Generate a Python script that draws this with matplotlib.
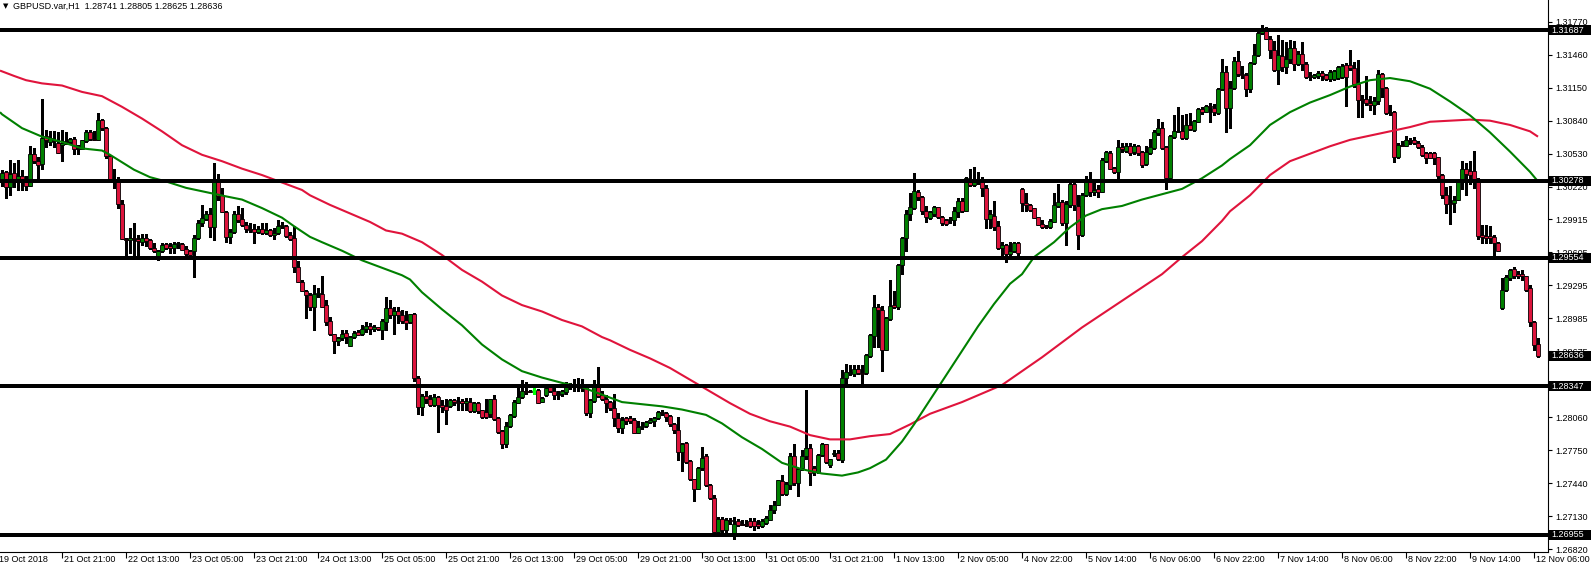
import numpy as np
import matplotlib
matplotlib.use('Agg')
import matplotlib.pyplot as plt
import matplotlib.transforms as mtransforms
from matplotlib.patches import Rectangle

plt.rcParams['font.family'] = ['Liberation Sans', 'DejaVu Sans']

# chart header
chart_title = 'GBPUSD.var,H1  1.28741 1.28805 1.28625 1.28636'

# H1 candles (one entry per bar, left to right)
opens = [
    1.3027, 1.3036, 1.3022, 1.3035, 1.3027, 1.3032, 1.3027, 1.3023, 1.3053, 1.3046,
    1.3043, 1.3070, 1.3064, 1.3066, 1.3063, 1.3061, 1.3064, 1.3064, 1.3067, 1.3058,
    1.3057, 1.3065, 1.3073, 1.3067, 1.3066, 1.3085, 1.3077, 1.3051, 1.3029, 1.3028,
    1.3006, 1.2973, 1.2972, 1.2974, 1.2973, 1.2970, 1.2974, 1.2972, 1.2965, 1.2957,
    1.2962, 1.2968, 1.2966, 1.2965, 1.2968, 1.2968, 1.2964, 1.2962, 1.2962, 1.2974,
    1.2988, 1.2992, 1.2996, 1.2984, 1.3028, 1.3014, 1.2998, 1.2975, 1.2980, 1.2996,
    1.2992, 1.2986, 1.2982, 1.2982, 1.2980, 1.2982, 1.2979, 1.2981, 1.2977, 1.2979,
    1.2985, 1.2985, 1.2977, 1.2974, 1.2947, 1.2933, 1.2924, 1.2920, 1.2909, 1.2921,
    1.2921, 1.2911, 1.2896, 1.2884, 1.2877, 1.2880, 1.2885, 1.2873, 1.2881, 1.2886,
    1.2884, 1.2889, 1.2891, 1.2889, 1.2890, 1.2888, 1.2895, 1.2908, 1.2902, 1.2905,
    1.2902, 1.2897, 1.2895, 1.2903, 1.2843, 1.2815, 1.2826, 1.2823, 1.2817, 1.2825,
    1.2817, 1.2816, 1.2816, 1.2822, 1.2820, 1.2821, 1.2819, 1.2820, 1.2812, 1.2819,
    1.2813, 1.2811, 1.2809, 1.2823, 1.2805, 1.2793, 1.2781, 1.2798, 1.2807, 1.2819,
    1.2825, 1.2830, 1.2830, 1.2831, 1.2831, 1.2820, 1.2827, 1.2834, 1.2830, 1.2827,
    1.2828, 1.2829, 1.2834, 1.2835, 1.2834, 1.2835, 1.2836, 1.2810, 1.2821, 1.2836,
    1.2827, 1.2823, 1.2820, 1.2814, 1.2805, 1.2796, 1.2805, 1.2805, 1.2803, 1.2791,
    1.2797, 1.2798, 1.2801, 1.2802, 1.2805, 1.2811, 1.2810, 1.2807, 1.2799, 1.2794,
    1.2773, 1.2782, 1.2765, 1.2748, 1.2738, 1.2758, 1.2769, 1.2742, 1.2730, 1.2698,
    1.2710, 1.2700, 1.2709, 1.2696, 1.2708, 1.2706, 1.2706, 1.2708, 1.2708, 1.2706,
    1.2704, 1.2707, 1.2709, 1.2719, 1.2723, 1.2746, 1.2734, 1.2742, 1.2769, 1.2744,
    1.2758, 1.2769, 1.2777, 1.2758, 1.2754, 1.2770, 1.2781, 1.2761, 1.2771, 1.2772,
    1.2766, 1.2843, 1.2847, 1.2846, 1.2851, 1.2847, 1.2847, 1.2863, 1.2882, 1.2909,
    1.2906, 1.2869, 1.2898, 1.2911, 1.2909, 1.2949, 1.2974, 1.2996, 1.3002, 1.3017,
    1.3012, 1.2999, 1.2993, 1.2996, 1.3003, 1.2994, 1.2991, 1.2991, 1.2991, 1.2998,
    1.3009, 1.2999, 1.3027, 1.3024, 1.3027, 1.3028, 1.3021, 1.2992, 1.2995, 1.2985,
    1.2965, 1.2967, 1.2959, 1.2962, 1.2969, 1.3020, 1.3007, 1.3005, 1.3002, 1.2994,
    1.2987, 1.2985, 1.2984, 1.2989, 1.3004, 1.3008, 1.2988, 1.3005, 1.3025, 1.3004,
    1.2977, 1.3014, 1.3027, 1.3017, 1.3020, 1.3017, 1.3046, 1.3054, 1.3040, 1.3036,
    1.3059, 1.3056, 1.3060, 1.3055, 1.3060, 1.3055, 1.3043, 1.3054, 1.3058, 1.3072,
    1.3077, 1.3059, 1.3030, 1.3069, 1.3073, 1.3074, 1.3068, 1.3080, 1.3075, 1.3083,
    1.3095, 1.3092, 1.3098, 1.3096, 1.3091, 1.3114, 1.3130, 1.3096, 1.3115, 1.3140,
    1.3128, 1.3127, 1.3114, 1.3138, 1.3146, 1.3166, 1.3171, 1.3161, 1.3150, 1.3132,
    1.3145, 1.3134, 1.3142, 1.3152, 1.3137, 1.3147, 1.3137, 1.3126, 1.3125, 1.3126,
    1.3129, 1.3127, 1.3123, 1.3123, 1.3124, 1.3125, 1.3136, 1.3136, 1.3133, 1.3118,
    1.3104, 1.3104, 1.3101, 1.3099, 1.3102, 1.3128, 1.3115, 1.3091, 1.3092, 1.3050,
    1.3061, 1.3060, 1.3066, 1.3066, 1.3063, 1.3059, 1.3054, 1.3054, 1.3054, 1.3050,
    1.3033, 1.3014, 1.3007, 1.3007, 1.3010, 1.3028, 1.3039, 1.3037, 1.3037, 1.3029,
    1.2977, 1.2976, 1.2976, 1.2975, 1.2969, 1.2908, 1.2925, 1.2936, 1.2945, 1.2940,
    1.2940, 1.2938, 1.2927, 1.2895, 1.28741,
]
highs = [
    1.3038, 1.3037, 1.3047, 1.3044, 1.3047, 1.3038, 1.3032, 1.3060, 1.3058, 1.3050,
    1.3104, 1.3075, 1.3074, 1.3074, 1.3073, 1.3075, 1.3073, 1.3068, 1.3069, 1.3061,
    1.3066, 1.3075, 1.3075, 1.3074, 1.3091, 1.3086, 1.3078, 1.3052, 1.3039, 1.3031,
    1.3010, 1.2974, 1.2983, 1.2988, 1.2977, 1.2978, 1.2978, 1.2973, 1.2969, 1.2963,
    1.2969, 1.2969, 1.2969, 1.2970, 1.2970, 1.2969, 1.2966, 1.2963, 1.2977, 1.2991,
    1.3005, 1.2999, 1.3002, 1.3044, 1.3034, 1.3021, 1.2999, 1.2982, 1.2999, 1.3004,
    1.3002, 1.2989, 1.2988, 1.2987, 1.2985, 1.2988, 1.2988, 1.2982, 1.2983, 1.2991,
    1.2989, 1.2986, 1.2980, 1.2985, 1.2952, 1.2935, 1.2925, 1.2922, 1.2930, 1.2927,
    1.2938, 1.2916, 1.2900, 1.2884, 1.2881, 1.2888, 1.2888, 1.2882, 1.2887, 1.2888,
    1.2892, 1.2895, 1.2894, 1.2892, 1.2890, 1.2898, 1.2919, 1.2916, 1.2909, 1.2909,
    1.2906, 1.2905, 1.2903, 1.2904, 1.2844, 1.2828, 1.2830, 1.2827, 1.2828, 1.2826,
    1.2822, 1.2823, 1.2823, 1.2823, 1.2825, 1.2823, 1.2824, 1.2824, 1.2820, 1.2820,
    1.2813, 1.2823, 1.2823, 1.2827, 1.2806, 1.2794, 1.2801, 1.2809, 1.2822, 1.2834,
    1.2841, 1.2839, 1.2831, 1.2837, 1.2832, 1.2825, 1.2834, 1.2835, 1.2834, 1.2830,
    1.2831, 1.2839, 1.2838, 1.2842, 1.2843, 1.2842, 1.2837, 1.2823, 1.2841, 1.2853,
    1.2830, 1.2827, 1.2821, 1.2828, 1.2810, 1.2806, 1.2806, 1.2807, 1.2805, 1.2802,
    1.2801, 1.2802, 1.2805, 1.2806, 1.2812, 1.2813, 1.2811, 1.2808, 1.2800, 1.2806,
    1.2782, 1.2783, 1.2766, 1.2748, 1.2759, 1.2778, 1.2771, 1.2743, 1.2733, 1.2712,
    1.2712, 1.2711, 1.2711, 1.2712, 1.2710, 1.2709, 1.2709, 1.2711, 1.2711, 1.2709,
    1.2710, 1.2713, 1.2723, 1.2727, 1.2747, 1.2752, 1.2745, 1.2772, 1.2781, 1.2758,
    1.2775, 1.2831, 1.2781, 1.2760, 1.2771, 1.2782, 1.2781, 1.2767, 1.2775, 1.2775,
    1.2850, 1.2856, 1.2855, 1.2855, 1.2855, 1.2855, 1.2865, 1.2884, 1.2920, 1.2912,
    1.2910, 1.2900, 1.2935, 1.2924, 1.2950, 1.2975, 1.3000, 1.3016, 1.3035, 1.3019,
    1.3013, 1.3004, 1.2999, 1.3004, 1.3003, 1.2995, 1.2992, 1.2994, 1.3003, 1.3011,
    1.3011, 1.3031, 1.3039, 1.3041, 1.3036, 1.3031, 1.3024, 1.3000, 1.3009, 1.2990,
    1.2970, 1.2968, 1.2970, 1.2970, 1.2970, 1.3021, 1.3016, 1.3006, 1.3002, 1.2994,
    1.2991, 1.2986, 1.2992, 1.3016, 1.3025, 1.3010, 1.3009, 1.3028, 1.3028, 1.3014,
    1.3016, 1.3032, 1.3036, 1.3027, 1.3024, 1.3049, 1.3056, 1.3056, 1.3041, 1.3066,
    1.3063, 1.3063, 1.3063, 1.3062, 1.3061, 1.3056, 1.3060, 1.3067, 1.3075, 1.3086,
    1.3083, 1.3060, 1.3071, 1.3089, 1.3097, 1.3089, 1.3090, 1.3091, 1.3085, 1.3096,
    1.3097, 1.3099, 1.3101, 1.3100, 1.3115, 1.3142, 1.3135, 1.3121, 1.3144, 1.3149,
    1.3135, 1.3129, 1.3139, 1.3156, 1.3168, 1.3174, 1.3172, 1.3163, 1.3159, 1.3164,
    1.3160, 1.3158, 1.3160, 1.3159, 1.3149, 1.3158, 1.3139, 1.3130, 1.3128, 1.3131,
    1.3131, 1.3128, 1.3132, 1.3132, 1.3135, 1.3137, 1.3138, 1.3150, 1.3139, 1.3141,
    1.3108, 1.3126, 1.3107, 1.3106, 1.3132, 1.3129, 1.3116, 1.3099, 1.3093, 1.3063,
    1.3065, 1.3070, 1.3068, 1.3069, 1.3065, 1.3061, 1.3055, 1.3055, 1.3055, 1.3050,
    1.3034, 1.3022, 1.3023, 1.3013, 1.3029, 1.3046, 1.3044, 1.3046, 1.3056, 1.3030,
    1.2986, 1.2986, 1.2985, 1.2977, 1.2970, 1.2936, 1.2939, 1.2945, 1.2947, 1.2943,
    1.2944, 1.2938, 1.2930, 1.2896, 1.28805,
]
lows = [
    1.3023, 1.3011, 1.3014, 1.3022, 1.3019, 1.3019, 1.3019, 1.3023, 1.3044, 1.3029,
    1.3039, 1.3059, 1.3061, 1.3059, 1.3054, 1.3046, 1.3062, 1.3063, 1.3053, 1.3053,
    1.3057, 1.3064, 1.3066, 1.3066, 1.3066, 1.3075, 1.3049, 1.3027, 1.3021, 1.3002,
    1.2973, 1.2957, 1.2960, 1.2958, 1.2958, 1.2967, 1.2966, 1.2964, 1.2961, 1.2953,
    1.2961, 1.2964, 1.2960, 1.2960, 1.2965, 1.2963, 1.2957, 1.2958, 1.2937, 1.2973,
    1.2985, 1.2991, 1.2975, 1.2972, 1.3010, 1.2998, 1.2970, 1.2969, 1.2979, 1.2989,
    1.2985, 1.2980, 1.2980, 1.2969, 1.2979, 1.2978, 1.2978, 1.2976, 1.2973, 1.2978,
    1.2983, 1.2975, 1.2972, 1.2942, 1.2933, 1.2924, 1.2899, 1.2906, 1.2888, 1.2919,
    1.2909, 1.2892, 1.2883, 1.2866, 1.2874, 1.2878, 1.2875, 1.2873, 1.2880, 1.2883,
    1.2883, 1.2886, 1.2884, 1.2887, 1.2888, 1.2879, 1.2888, 1.2899, 1.2884, 1.2894,
    1.2894, 1.2889, 1.2894, 1.2840, 1.2809, 1.2808, 1.2819, 1.2816, 1.2816, 1.2792,
    1.2811, 1.2799, 1.2815, 1.2817, 1.2813, 1.2813, 1.2813, 1.2811, 1.2811, 1.2810,
    1.2805, 1.2805, 1.2806, 1.2803, 1.2791, 1.2777, 1.2778, 1.2797, 1.2806, 1.2819,
    1.2824, 1.2828, 1.2829, 1.2828, 1.2819, 1.2820, 1.2826, 1.2829, 1.2823, 1.2823,
    1.2826, 1.2828, 1.2832, 1.2830, 1.2830, 1.2830, 1.2808, 1.2806, 1.2820, 1.2825,
    1.2822, 1.2811, 1.2813, 1.2798, 1.2792, 1.2791, 1.2799, 1.2800, 1.2791, 1.2791,
    1.2795, 1.2797, 1.2800, 1.2798, 1.2804, 1.2808, 1.2802, 1.2798, 1.2791, 1.2766,
    1.2755, 1.2763, 1.2747, 1.2727, 1.2738, 1.2756, 1.2741, 1.2729, 1.2697, 1.2697,
    1.2697, 1.2698, 1.2706, 1.2692, 1.2704, 1.2705, 1.2704, 1.2703, 1.2700, 1.2702,
    1.2703, 1.2706, 1.2709, 1.2716, 1.2723, 1.2733, 1.2733, 1.2738, 1.2742, 1.2732,
    1.2756, 1.2767, 1.2742, 1.2752, 1.2753, 1.2769, 1.2763, 1.2759, 1.2769, 1.2766,
    1.2764, 1.2835, 1.2845, 1.2844, 1.2846, 1.2838, 1.2846, 1.2862, 1.2872, 1.2872,
    1.2849, 1.2869, 1.2897, 1.2908, 1.2907, 1.2940, 1.2962, 1.2991, 1.3001, 1.3010,
    1.2996, 1.2989, 1.2992, 1.2995, 1.2993, 1.2986, 1.2986, 1.2988, 1.2986, 1.2994,
    1.2998, 1.2999, 1.3023, 1.3023, 1.3025, 1.3013, 1.2983, 1.2983, 1.2981, 1.2964,
    1.2956, 1.2951, 1.2956, 1.2961, 1.2956, 1.2999, 1.2999, 1.2999, 1.2993, 1.2986,
    1.2983, 1.2983, 1.2983, 1.2989, 1.3003, 1.2986, 1.2967, 1.3003, 1.3000, 1.2964,
    1.2976, 1.3013, 1.3013, 1.3014, 1.3012, 1.3017, 1.3045, 1.3039, 1.3035, 1.3028,
    1.3055, 1.3055, 1.3052, 1.3053, 1.3052, 1.3041, 1.3042, 1.3053, 1.3057, 1.3071,
    1.3057, 1.3020, 1.3030, 1.3068, 1.3073, 1.3067, 1.3067, 1.3075, 1.3074, 1.3083,
    1.3090, 1.3092, 1.3083, 1.3089, 1.3090, 1.3113, 1.3073, 1.3077, 1.3114, 1.3126,
    1.3124, 1.3107, 1.3111, 1.3137, 1.3145, 1.3165, 1.3161, 1.3143, 1.3131, 1.3118,
    1.3131, 1.3129, 1.3138, 1.3132, 1.3136, 1.3132, 1.3124, 1.3122, 1.3124, 1.3124,
    1.3122, 1.3122, 1.3121, 1.3122, 1.3123, 1.3124, 1.3098, 1.3132, 1.3116, 1.3087,
    1.3087, 1.3099, 1.3094, 1.3090, 1.3100, 1.3106, 1.3090, 1.3089, 1.3045, 1.3049,
    1.3060, 1.3060, 1.3062, 1.3062, 1.3058, 1.3051, 1.3044, 1.3049, 1.3043, 1.3030,
    1.3011, 1.2997, 1.2987, 1.2998, 1.3010, 1.3020, 1.3014, 1.3025, 1.3021, 1.2973,
    1.2969, 1.2969, 1.2969, 1.2957, 1.2962, 1.2907, 1.2924, 1.2935, 1.2936, 1.2936,
    1.2935, 1.2924, 1.2891, 1.2869, 1.28625,
]
closes = [
    1.3035, 1.3022, 1.3034, 1.3028, 1.3032, 1.3027, 1.3023, 1.3053, 1.3046, 1.3042,
    1.3068, 1.3066, 1.3068, 1.3065, 1.3054, 1.3063, 1.3065, 1.3067, 1.3057, 1.3057,
    1.3066, 1.3073, 1.3067, 1.3066, 1.3085, 1.3077, 1.3051, 1.3028, 1.3028, 1.3006,
    1.2973, 1.2972, 1.2974, 1.2973, 1.2971, 1.2974, 1.2971, 1.2965, 1.2962, 1.2962,
    1.2967, 1.2965, 1.2965, 1.2968, 1.2969, 1.2963, 1.2959, 1.2958, 1.2974, 1.2988,
    1.2993, 1.2996, 1.2984, 1.3028, 1.3013, 1.2998, 1.2975, 1.2980, 1.2996, 1.2991,
    1.2986, 1.2982, 1.2981, 1.2980, 1.2982, 1.2979, 1.2981, 1.2977, 1.2979, 1.2985,
    1.2986, 1.2976, 1.2973, 1.2947, 1.2933, 1.2924, 1.2920, 1.2909, 1.2921, 1.2922,
    1.2909, 1.2895, 1.2884, 1.2877, 1.2880, 1.2884, 1.2881, 1.2881, 1.2885, 1.2883,
    1.2889, 1.2891, 1.2889, 1.2890, 1.2889, 1.2896, 1.2908, 1.2902, 1.2905, 1.2902,
    1.2896, 1.2894, 1.2903, 1.2843, 1.2815, 1.2826, 1.2823, 1.2817, 1.2825, 1.2817,
    1.2815, 1.2813, 1.2822, 1.2820, 1.2819, 1.2819, 1.2821, 1.2812, 1.2819, 1.2812,
    1.2806, 1.2806, 1.2823, 1.2804, 1.2792, 1.2781, 1.2798, 1.2808, 1.2820, 1.2825,
    1.2830, 1.2829, 1.2829, 1.2831, 1.2819, 1.2824, 1.2833, 1.2830, 1.2827, 1.2828,
    1.2830, 1.2834, 1.2836, 1.2834, 1.2835, 1.2833, 1.2810, 1.2822, 1.2836, 1.2826,
    1.2823, 1.2819, 1.2814, 1.2805, 1.2796, 1.2803, 1.2802, 1.2802, 1.2791, 1.2797,
    1.2798, 1.2801, 1.2803, 1.2805, 1.2811, 1.2810, 1.2806, 1.2799, 1.2794, 1.2773,
    1.2781, 1.2764, 1.2748, 1.2738, 1.2758, 1.2768, 1.2742, 1.2730, 1.2698, 1.2710,
    1.2700, 1.2709, 1.2708, 1.2706, 1.2705, 1.2705, 1.2705, 1.2704, 1.2704, 1.2704,
    1.2708, 1.2711, 1.2719, 1.2723, 1.2747, 1.2734, 1.2743, 1.2769, 1.2744, 1.2757,
    1.2769, 1.2777, 1.2753, 1.2754, 1.2770, 1.2781, 1.2764, 1.2767, 1.2772, 1.2767,
    1.2843, 1.2848, 1.2848, 1.2851, 1.2847, 1.2846, 1.2864, 1.2883, 1.2909, 1.2906,
    1.2869, 1.2899, 1.2910, 1.2909, 1.2949, 1.2974, 1.2996, 1.3003, 1.3018, 1.3012,
    1.2999, 1.2994, 1.2998, 1.3003, 1.2994, 1.2988, 1.2987, 1.2992, 1.2999, 1.3009,
    1.2999, 1.3030, 1.3024, 1.3027, 1.3028, 1.3021, 1.2992, 1.2996, 1.2984, 1.2965,
    1.2967, 1.2959, 1.2962, 1.2969, 1.2960, 1.3007, 1.3005, 1.3000, 1.2993, 1.2986,
    1.2984, 1.2984, 1.2990, 1.3005, 1.3008, 1.2988, 1.3006, 1.3025, 1.3005, 1.2977,
    1.3014, 1.3028, 1.3017, 1.3019, 1.3017, 1.3047, 1.3055, 1.3039, 1.3036, 1.3059,
    1.3057, 1.3060, 1.3054, 1.3060, 1.3054, 1.3042, 1.3055, 1.3059, 1.3073, 1.3077,
    1.3058, 1.3030, 1.3070, 1.3074, 1.3074, 1.3068, 1.3080, 1.3076, 1.3084, 1.3095,
    1.3092, 1.3098, 1.3097, 1.3092, 1.3114, 1.3130, 1.3096, 1.3115, 1.3140, 1.3128,
    1.3127, 1.3114, 1.3138, 1.3146, 1.3166, 1.3169, 1.3161, 1.3150, 1.3132, 1.3146,
    1.3134, 1.3142, 1.3152, 1.3137, 1.3147, 1.3137, 1.3125, 1.3125, 1.3127, 1.3129,
    1.3126, 1.3123, 1.3130, 1.3131, 1.3134, 1.3135, 1.3125, 1.3133, 1.3118, 1.3103,
    1.3103, 1.3101, 1.3099, 1.3102, 1.3128, 1.3115, 1.3091, 1.3092, 1.3050, 1.3061,
    1.3060, 1.3066, 1.3065, 1.3063, 1.3059, 1.3052, 1.3049, 1.3049, 1.3049, 1.3032,
    1.3014, 1.3006, 1.3006, 1.3010, 1.3028, 1.3039, 1.3034, 1.3033, 1.3029, 1.2976,
    1.2975, 1.2974, 1.2974, 1.2969, 1.2962, 1.2925, 1.2937, 1.2944, 1.2938, 1.2938,
    1.2938, 1.2925, 1.2895, 1.2874, 1.28636,
]

# moving averages (bar index, value)
ma_fast_bars = [-0.5, 0, 5, 10, 15, 20, 25, 27, 30, 33, 37, 41, 46, 51, 56, 60, 65, 70, 73, 77, 80,
                85, 90, 95, 100, 102, 105, 110, 115, 120, 125, 130, 135, 140, 145, 150, 155, 160,
                165, 170, 176, 180, 185, 190, 195, 200, 205, 210, 214, 217, 221, 225, 228, 232,
                236, 240, 244, 248, 252, 255, 258, 263, 267, 271, 275, 280, 285, 290, 295, 300,
                305, 307, 312, 317, 322, 327, 332, 337, 342, 347, 352, 357, 362, 367, 372, 377,
                382, 384]
ma_fast_vals = [1.3092, 1.3090, 1.3077, 1.3069, 1.3064, 1.3058, 1.3056, 1.3052, 1.3045, 1.3038,
                1.3031, 1.3027, 1.3021, 1.3017, 1.3013, 1.3010, 1.3002, 1.2993, 1.2985, 1.2975,
                1.2970, 1.2962, 1.2953, 1.2946, 1.2939, 1.2935, 1.2923, 1.2907, 1.2892, 1.2874,
                1.2860, 1.2849, 1.2843, 1.2838, 1.2834, 1.2827, 1.2820, 1.2818, 1.2816, 1.2813,
                1.2808, 1.2800, 1.2787, 1.2776, 1.2763, 1.2757, 1.2753, 1.2751, 1.2754, 1.2758,
                1.2766, 1.2783, 1.2799, 1.2822, 1.2845, 1.2868, 1.2891, 1.2912, 1.2931, 1.2940,
                1.2956, 1.2970, 1.2984, 1.2995, 1.3001, 1.3004, 1.3010, 1.3015, 1.3020, 1.3030,
                1.3042, 1.3048, 1.3061, 1.3080, 1.3092, 1.3101, 1.3108, 1.3116, 1.3122, 1.3124,
                1.3121, 1.3114, 1.3102, 1.3089, 1.3073, 1.3055, 1.3036, 1.3027]
ma_slow_bars = [-0.5, 3, 6, 10, 15, 20, 25, 30, 35, 40, 45, 50, 55, 60, 65, 70, 75, 77, 82, 87,
                92, 96, 100, 105, 110, 115, 120, 125, 130, 135, 140, 145, 150, 152, 157, 162,
                167, 172, 177, 182, 187, 192, 197, 202, 207, 212, 217, 222, 227, 232, 240, 250,
                260, 270, 280, 286, 290, 295, 300, 305, 307, 312, 317, 322, 327, 332, 337, 342,
                347, 352, 357, 362, 367, 372, 377, 382, 384]
ma_slow_vals = [1.3131, 1.3126, 1.3122, 1.3119, 1.3117, 1.3111, 1.3107, 1.3097, 1.3086, 1.3074,
                1.3061, 1.3052, 1.3046, 1.3039, 1.3033, 1.3026, 1.3019, 1.3014, 1.3005, 1.2997,
                1.2989, 1.2981, 1.2978, 1.2970, 1.2958, 1.2944, 1.2933, 1.2920, 1.2911, 1.2905,
                1.2897, 1.2891, 1.2881, 1.2878, 1.2869, 1.2861, 1.2852, 1.2841, 1.2830, 1.2819,
                1.2809, 1.2802, 1.2797, 1.2789, 1.2785, 1.2785, 1.2788, 1.2790, 1.2799, 1.2809,
                1.2820, 1.2836, 1.2862, 1.2890, 1.2915, 1.2930, 1.2940, 1.2956, 1.2971, 1.2990,
                1.2999, 1.3014, 1.3033, 1.3046, 1.3053, 1.3060, 1.3066, 1.3070, 1.3074, 1.3078,
                1.3083, 1.3084, 1.3085, 1.3084, 1.3080, 1.3074, 1.3069]

# horizontal levels and current price
level_prices = [1.31687, 1.30278, 1.29554, 1.28347, 1.26955]
last_price = 1.28636

# axis labels (1.28365 sits fully under the 1.28347 box in the original)
price_ticks = [1.31770, 1.31460, 1.31150, 1.30840, 1.30530, 1.30220, 1.29915, 1.29605, 1.29295,
               1.28985, 1.28675, 1.28060, 1.27750, 1.27440, 1.27130, 1.26820]
first_date_label = '19 Oct 2018'
time_labels = ['21 Oct 21:00', '22 Oct 13:00', '23 Oct 05:00', '23 Oct 21:00', '24 Oct 13:00',
               '25 Oct 05:00', '25 Oct 21:00', '26 Oct 13:00', '29 Oct 05:00', '29 Oct 21:00',
               '30 Oct 13:00', '31 Oct 05:00', '31 Oct 21:00', '1 Nov 13:00', '2 Nov 05:00',
               '4 Nov 22:00', '5 Nov 14:00', '6 Nov 06:00', '6 Nov 22:00', '7 Nov 14:00',
               '8 Nov 06:00', '8 Nov 22:00', '9 Nov 14:00', '12 Nov 06:00']
label_every = 16   # one time label per 16 bars
first_label_bar = 15

W, H = 1591, 570
fig = plt.figure(figsize=(W / 100, H / 100), dpi=100)
fig.patch.set_facecolor('white')
ax = fig.add_axes([0, 18 / H, 1548 / W, 552 / H])

o = np.array(opens)
h = np.array(highs)
l = np.array(lows)
c = np.array(closes)
x = np.arange(len(c))
up = c > o
down = c < o
flat = c == o

bull_color = '#008000'
bear_color = '#DC143C'
doji_color = '#00FF00'

# wicks
ax.vlines(x[~flat], l[~flat], h[~flat], color='black', lw=0.9, zorder=2, antialiased=False)
# bodies
body_w = 0.8
ax.bar(x[up], (c - o)[up], bottom=o[up], width=body_w, color=bull_color,
       edgecolor='black', linewidth=0.6, zorder=3)
ax.bar(x[down], (o - c)[down], bottom=c[down], width=body_w, color=bear_color,
       edgecolor='black', linewidth=0.6, zorder=3)
# open == close candles
ax.vlines(x[flat], l[flat], h[flat], color=doji_color, lw=0.9, zorder=3, antialiased=False)
ax.hlines(o[flat], x[flat] - body_w / 2, x[flat] + body_w / 2, color=doji_color, lw=0.9, zorder=3)

# moving averages
ax.plot(ma_slow_bars, ma_slow_vals, color='#E0143C', lw=1.5, zorder=4, solid_capstyle='butt')
ax.plot(ma_fast_bars, ma_fast_vals, color='#008000', lw=1.5, zorder=4, solid_capstyle='butt')

# horizontal levels
for p in level_prices:
    ax.axhline(p, color='black', lw=1.5, zorder=5, antialiased=False)

y_top, y_bot = 1.319722, 1.267935
ax.set_xlim(-0.5, 386.5)
ax.set_ylim(y_bot, y_top)

for side in ['top', 'left']:
    ax.spines[side].set_visible(False)
for side in ['right', 'bottom']:
    ax.spines[side].set_linewidth(0.8)
    ax.spines[side].set_color('black')

ax.yaxis.tick_right()
ax.set_yticks(price_ticks)
ax.set_yticklabels([f'{p:.5f}' for p in price_ticks])
ax.tick_params(axis='y', direction='out', length=3, width=0.8, pad=2, labelsize=6.5,
               colors='black')

tick_bars = [first_label_bar + label_every * i for i in range(len(time_labels))]
ax.set_xticks(tick_bars)
ax.set_xticklabels([])
ax.tick_params(axis='x', direction='out', length=4, width=0.8)

xtrans = mtransforms.blended_transform_factory(ax.transData, ax.transAxes)
lab_y = -3.5 / 552
ax.text(-0.75, lab_y, first_date_label, transform=xtrans, ha='left', va='top',
        fontsize=6.5, clip_on=False)
for b, lab in zip(tick_bars, time_labels):
    ax.text(b + 0.5, lab_y, lab, transform=xtrans, ha='left', va='top',
            fontsize=6.5, clip_on=False)

# price boxes on the right scale
ytrans = mtransforms.blended_transform_factory(ax.transAxes, ax.transData)
px_per_price = 552 / (y_top - y_bot)
box_h = 10 / px_per_price
box_w = 43 / 1548
for p in level_prices + [last_price]:
    ax.add_patch(Rectangle((1.0, p - box_h / 2), box_w, box_h, transform=ytrans,
                           facecolor='black', edgecolor='none', clip_on=False, zorder=10))
    ax.text(1.0 + 3 / 1548, p, f'{p:.5f}', transform=ytrans, color='white',
            ha='left', va='center', fontsize=6.5, clip_on=False, zorder=11)

# header
fig.text(3 / W, 1 - 6 / H, '\u25bc', fontsize=5, va='center', ha='left',
         family=['DejaVu Sans'])
fig.text(13 / W, 1 - 6 / H, chart_title, fontsize=6.5, va='center', ha='left')

fig.savefig('out.png', dpi=100, facecolor='white')
